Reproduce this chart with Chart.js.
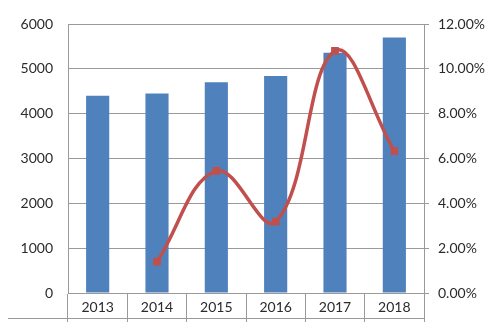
<!DOCTYPE html>
<html>
<head>
<meta charset="utf-8">
<script src="https://cdn.jsdelivr.net/npm/chart.js@4/dist/chart.umd.min.js"></script>
<style>
html,body{margin:0;padding:0;background:#fff;}
#wrap{width:496px;height:322px;position:relative;}
</style>
</head>
<body>
<div id="wrap"><canvas id="c" width="496" height="322"></canvas></div>
<script>
const categories = ['2013','2014','2015','2016','2017','2018'];
const barValues = [4400, 4450, 4700, 4840, 5360, 5700];
const growthValues = [null, 1.4, 5.45, 3.18, 10.8, 6.33];
const leftTicks = [0, 1000, 2000, 3000, 4000, 5000, 6000];
const rightTicks = [0, 2, 4, 6, 8, 10, 12];

const gridColor = '#9a9a9a';
const textColor = '#2b2b2b';
const font = {family: 'Lato', size: 14};

const bottomLine = {
  id: 'bottomLine',
  afterDraw(chart) {
    const ctx = chart.ctx;
    const a = chart.chartArea;
    ctx.save();
    ctx.strokeStyle = gridColor;
    ctx.lineWidth = 1;
    ctx.beginPath();
    ctx.moveTo(8, a.bottom + 25.5);
    ctx.lineTo(a.right, a.bottom + 25.5);
    ctx.stroke();
    ctx.restore();
  }
};

new Chart(document.getElementById('c'), {
  data: {
    labels: categories,
    datasets: [
      {
        type: 'line',
        data: growthValues,
        yAxisID: 'y2',
        borderColor: '#C0504D',
        backgroundColor: '#C0504D',
        borderWidth: 3.5,
        tension: 0.4,
        pointStyle: 'rect',
        pointRadius: 5.5,
        pointBorderWidth: 0,
        pointBackgroundColor: '#C0504D',
        order: 0,
        spanGaps: false
      },
      {
        type: 'bar',
        data: barValues,
        yAxisID: 'y',
        backgroundColor: '#4F81BD',
        borderWidth: 0,
        barPercentage: 0.39,
        categoryPercentage: 1,
        order: 1
      }
    ]
  },
  options: {
    responsive: false,
    animation: false,
    devicePixelRatio: 1,
    layout: {padding: {top: 24, left: 0, right: 0, bottom: 0}},
    plugins: {legend: {display: false}, tooltip: {enabled: false}},
    scales: {
      x: {
        offset: true,
        grid: {offset: true, drawOnChartArea: false, drawTicks: true, tickLength: 29, color: gridColor},
        border: {display: true, color: gridColor},
        ticks: {color: textColor, font: font, padding: -23, maxRotation: 0},
        afterFit(s) { s.height = 29; }
      },
      y: {
        position: 'left',
        min: 0, max: 6000,
        afterBuildTicks(s) { s.ticks = leftTicks.map(v => ({value: v})); },
        grid: {color: gridColor, drawTicks: false},
        border: {display: true, color: gridColor},
        ticks: {color: textColor, font: font, padding: 15, callback: v => String(v)},
        afterFit(s) { s.width = 68; }
      },
      y2: {
        position: 'right',
        min: 0, max: 12,
        afterBuildTicks(s) { s.ticks = rightTicks.map(v => ({value: v})); },
        grid: {drawOnChartArea: false, drawTicks: true, tickLength: 5, color: gridColor},
        border: {display: true, color: gridColor},
        ticks: {color: textColor, font: font, padding: 9, callback: v => v.toFixed(2) + '%'},
        afterFit(s) { s.width = 72; }
      }
    }
  },
  plugins: [bottomLine]
});
</script>
</body>
</html>
